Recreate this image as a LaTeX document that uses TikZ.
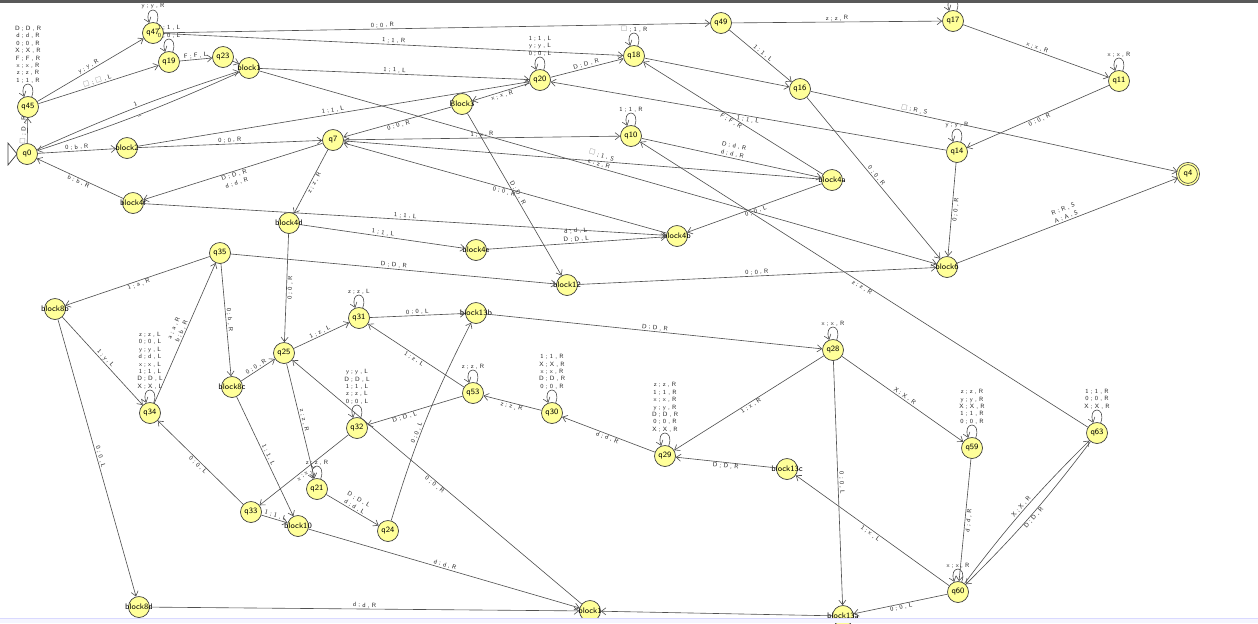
\documentclass[tikz,border=0pt]{standalone}
\usepackage{amssymb}
\usepackage{tikz}
\usetikzlibrary{arrows.meta}
\definecolor{jyellow}{RGB}{255,255,153}
\definecolor{jline}{RGB}{80,80,80}
\newcommand{\nm}[1]{\makebox[0pt]{#1}}
\newcommand{\blank}{\textcolor{black!45}{$\square$}}
\tikzset{
  state/.style={circle, draw=black!75, fill=jyellow, line width=0.4pt, minimum size=0.42cm, inner sep=0pt, font=\fontsize{4.6}{5}\sffamily},
  accept/.style={state, double=jyellow, double distance=0.8pt},
  trans/.style={draw=jline, line width=0.35pt, -{Straight Barb[length=2.6pt,width=4pt]}},
  lbl/.style={font=\fontsize{3.5}{4.8}\sffamily, text=black!85, inner sep=0.5pt, align=center, sloped, above},
  lbr/.style={lbl, below},
  looplbl/.style={font=\fontsize{3.5}{4.2}\sffamily, text=black!85, inner sep=0.5pt, align=center, above},
  selfloop/.style={out=70, in=110, looseness=1, min distance=0.36cm},
}
\begin{document}
\begin{tikzpicture}[x=0.02cm, y=-0.02cm]
\useasboundingbox (0,0) rectangle (1258,623);
\fill[white] (0,0) rectangle (1258,623);
% states, upper half
\node[state] (q0) at (27,154) {\nm{q0}};
\node[state] (q45) at (28,107) {\nm{q45}};
\node[state] (q47) at (153,33) {\nm{q47}};
\node[state] (q19) at (169,62) {\nm{q19}};
\node[state] (q23) at (223,57) {\nm{q23}};
\node[state] (block1) at (249,68) {\nm{block1}};
\node[state] (block2) at (127,148) {\nm{block2}};
\node[state] (block4f) at (133,203) {\nm{block4f}};
\node[state] (q7) at (333,140) {\nm{q7}};
\node[state] (block3) at (462,104) {\nm{Block3}};
\node[state] (q20) at (540,80) {\nm{q20}};
\node[state] (q18) at (634,56) {\nm{q18}};
\node[state] (q49) at (721,23) {\nm{q49}};
\node[state] (q17) at (953,21) {\nm{q17}};
\node[state] (q11) at (1119,81) {\nm{q11}};
\node[state] (q16) at (800,89) {\nm{q16}};
\node[state] (q10) at (631,136) {\nm{q10}};
\node[state] (q14) at (957,152) {\nm{q14}};
\node[accept] (q4) at (1188,174) {\nm{q4}};
\node[state] (block4a) at (832,180) {\nm{block4a}};
\node[state] (block4d) at (289,223) {\nm{block4d}};
\node[state] (block4e) at (476,250) {\nm{block4e}};
\node[state] (block4b) at (677,236) {\nm{block4b}};
\node[state] (block12) at (567,285) {\nm{block12}};
\node[state] (block6) at (947,267) {\nm{block6}};
% states, lower half
\node[state] (q35) at (220,253) {\nm{q35}};
\node[state] (block8b) at (55,309) {\nm{block8b}};
\node[state] (q34) at (150,413) {\nm{q34}};
\node[state] (block8c) at (232,387) {\nm{block8c}};
\node[state] (q25) at (284,353) {\nm{q25}};
\node[state] (q31) at (359,318) {\nm{q31}};
\node[state] (block13b) at (476,313) {\nm{block13b}};
\node[state] (q28) at (833,350) {\nm{q28}};
\node[state] (q53) at (473,393) {\nm{q53}};
\node[state] (q30) at (552,413) {\nm{q30}};
\node[state] (q32) at (357,428) {\nm{q32}};
\node[state] (q29) at (665,456) {\nm{q29}};
\node[state] (block13c) at (787,469) {\nm{block13c}};
\node[state] (q59) at (972,448) {\nm{q59}};
\node[state] (q63) at (1097,433) {\nm{q63}};
\node[state] (q21) at (317,489) {\nm{q21}};
\node[state] (q33) at (251,512) {\nm{q33}};
\node[state] (block10) at (298,526) {\nm{block10}};
\node[state] (q24) at (388,531) {\nm{q24}};
\node[state] (block8d) at (139,607) {\nm{block8d}};
\node[state] (block1b) at (590,611) {\nm{block1}};
\node[state] (block13a) at (843,616) {\nm{block13a}};
\node[state] (q60) at (958,592) {\nm{q60}};
% initial marker
\draw[black!75, fill=white] (8,143) -- (17,154) -- (8,165) -- cycle;
% transitions, upper half
\draw[trans] (q0) -- node[lbl] {\blank{} ; D , R} (q45);
\draw[trans] (q45) to[selfloop] node[looplbl] {D ; D , R\\d ; d , R\\0 ; 0 , R\\X ; X , R\\F ; F , R\\x ; x , R\\z ; z , R\\1 ; 1 , R} (q45);
\draw[trans] (q45) -- node[lbl] {y ; y , R} (q47);
\draw[trans] (q45) -- node[lbl] {\blank{} ; \blank{} , L} (q19);
\draw[trans] (q47) to[selfloop] node[looplbl] {y ; y , R} (q47);
\draw[trans] (q19) to[selfloop] node[looplbl] {1 ; 1 , L\\0 ; 0 , L} (q19);
\draw[trans] (q19) -- node[lbl] {F ; F , L} (q23);
\draw[trans] (q23) -- (block1);
\draw[trans] (q0) to[bend left=3] node[lbl] {1} (block1);
\draw[trans] (block1) to[bend left=3] node[lbr] {--} (q0);
\draw[trans] (q0) -- node[lbl] {0 ; b , R} (block2);
\draw[trans] (block4f) -- node[lbr] {b ; b , R} (q0);
\draw[trans] (block2) -- node[lbl] {0 ; 0 , R} (q7);
\draw[trans] (block2) -- node[lbl] {1 ; 1 , L} (q20);
\draw[trans] (block1) -- node[lbl] {1 ; 1 , L} (q20);
\draw[trans] (block1) -- node[lbl] {\blank{} ; 1 , S\\z ; z , R} (block6);
\draw[trans] (q7) -- node[lbr] {D ; D , R\\d ; d , R} (block4f);
\draw[trans] (block4f) -- node[lbl] {1 ; 1 , L} (block4b);
\draw[trans] (q47) -- node[lbl, pos=0.4] {0 ; 0 , R} (q49);
\draw[trans] (q47) -- node[lbl] {1 ; 1 , R} (q18);
\draw[trans] (q18) to[selfloop] node[looplbl] {\blank{} ; 1 , R} (q18);
\draw[trans] (q20) to[selfloop] node[looplbl] {1 ; 1 , L\\y ; y , L\\0 ; 0 , L} (q20);
\draw[trans] (q20) -- node[lbl] {D ; D , R} (q18);
\draw[trans] (q20) -- node[lbr] {x ; x , R} (block3);
\draw[trans] (block3) -- node[lbr] {0 ; 0 , R} (q7);
\draw[trans] (block3) -- node[lbl] {D ; D , R} (block12);
\draw[trans] (q7) -- node[lbl] {1 ; x , R} (q10);
\draw[trans] (q10) to[selfloop] node[looplbl] {1 ; 1 , R} (q10);
\draw[trans] (q10) -- node[lbl] {D ; d , R\\d ; d , R} (block4a);
\draw[trans] (block4a) -- (q7);
\draw[trans] (block4b) -- node[lbr] {0 ; 0 , R} (q7);
\draw[trans] (q49) -- node[lbl] {z ; z , R} (q17);
\draw[trans] (q49) -- node[lbl] {1 ; 1 , L} (q16);
\draw[trans] (q18) -- (q16);
\draw[trans] (block4a) -- node[lbr] {F ; F , R} (q18);
\draw[trans] (q14) -- node[lbr] {1 ; 1 , L} (q20);
\draw[trans] (q17) to[selfloop] (q17);
\draw[trans] (q17) -- node[lbl] {x ; x , R} (q11);
\draw[trans] (q11) to[selfloop] node[looplbl] {x ; x , R} (q11);
\draw[trans] (q11) -- node[lbr] {0 ; 0 , R} (q14);
\draw[trans] (q14) to[selfloop] node[looplbl] {y ; y , R} (q14);
\draw[trans] (q16) -- node[lbl, pos=0.28] {\blank{} ; R , S} (q4);
\draw[trans] (q16) -- node[lbl] {0 ; 0 , R} (block6);
\draw[trans] (q14) -- node[lbr] {0 ; 0 , R} (block6);
\draw[trans] (block6) -- node[lbl] {R ; R , S\\A ; A , S} (q4);
\draw[trans] (q7) -- node[lbr] {z ; z , R} (block4d);
\draw[trans] (block4d) -- node[lbl] {1 ; 1 , L} (block4e);
\draw[trans] (block4e) -- node[lbl] {d ; d , L\\D ; D , L} (block4b);
\draw[trans] (block4a) -- node[lbr] {0 ; 0 , L} (block4b);
\draw[trans] (block4d) -- node[lbr] {0 ; 0 , R} (q25);
\draw[trans] (q35) -- node[lbl] {D ; D , R} (block12);
\draw[trans] (block12) -- node[lbl] {0 ; 0 , R} (block6);
\draw[trans] (q63) -- node[lbr] {z ; z , R} (q10);
% transitions, lower half
\draw[trans] (q35) -- node[lbr] {1 ; a , R} (block8b);
\draw[trans] (block8b) -- node[lbl] {1 ; y , L} (q34);
\draw[trans] (q34) -- node[lbl] {a ; a , R\\b ; b , R} (q35);
\draw[trans] (q34) to[selfloop] node[looplbl] {z ; z , L\\0 ; 0 , L\\y ; y , L\\d ; d , L\\x ; x , L\\1 ; 1 , L\\D ; D , L\\X ; X , L} (q34);
\draw[trans] (q35) -- node[lbl] {0 ; b , R} (block8c);
\draw[trans] (block8c) -- node[lbl] {0 ; 0 , R} (q25);
\draw[trans] (block8c) -- node[lbl] {1 ; 1 , L} (block10);
\draw[trans] (block8b) -- node[lbl] {0 ; 0 , L} (block8d);
\draw[trans] (block8d) -- node[lbl] {d ; d , R} (block1b);
\draw[trans] (q25) -- node[lbl] {1 ; z , L} (q31);
\draw[trans] (q31) to[selfloop] node[looplbl] {z ; z , L} (q31);
\draw[trans] (q31) -- node[lbl] {0 ; 0 , L} (block13b);
\draw[trans] (block13b) -- node[lbl] {D ; D , R} (q28);
\draw[trans] (q53) -- node[lbr] {1 ; z , L} (q31);
\draw[trans] (q53) to[selfloop] node[looplbl] {z ; z , R} (q53);
\draw[trans] (q53) -- node[lbr, pos=0.62] {D ; D , L} (q32);
\draw[trans] (q24) to[bend left=5] node[lbl, pos=0.42] {0 ; 0 , L} (block13b);
\draw[trans] (q30) -- node[lbr] {z ; z , R} (q53);
\draw[trans] (q30) to[selfloop] node[looplbl] {1 ; 1 , R\\X ; X , R\\x ; x , R\\D ; D , R\\0 ; 0 , R} (q30);
\draw[trans] (q29) -- node[lbr] {d ; d , R} (q30);
\draw[trans] (q29) to[selfloop] node[looplbl] {z ; z , R\\1 ; 1 , R\\x ; x , R\\y ; y , R\\D ; D , R\\0 ; 0 , R\\X ; X , R} (q29);
\draw[trans] (q28) to[selfloop] node[looplbl] {x ; x , R} (q28);
\draw[trans] (q28) -- node[lbr] {1 ; x , R} (q29);
\draw[trans] (q28) -- node[lbl] {X ; X , R} (q59);
\draw[trans] (q28) -- node[lbl] {0 ; 0 , L} (block13a);
\draw[trans] (block13c) -- node[lbr] {D ; D , R} (q29);
\draw[trans] (q60) -- node[lbr] {1 ; x , L} (block13c);
\draw[trans] (q59) to[selfloop] node[looplbl] {z ; z , R\\y ; y , R\\X ; X , R\\1 ; 1 , R\\0 ; 0 , R} (q59);
\draw[trans] (q59) -- node[lbr] {d ; d , R} (q60);
\draw[trans] (q60) to[selfloop] node[looplbl] {x ; x , R} (q60);
\draw[trans] (q60) to[bend left=4] node[lbl] {X ; X , R} (q63);
\draw[trans] (q63) to[bend left=4] node[lbr] {D ; D , R} (q60);
\draw[trans] (q63) to[selfloop] node[looplbl] {1 ; 1 , R\\0 ; 0 , R\\X ; X , R} (q63);
\draw[trans] (q60) -- node[lbr] {0 ; 0 , L} (block13a);
\draw[trans] (block13a) -- (block1b);
\draw[trans] (q25) -- node[lbl] {z ; z , R} (q21);
\draw[trans] (q32) to[selfloop] node[looplbl] {y ; y , L\\D ; D , L\\1 ; 1 , L\\z ; z , L\\0 ; 0 , L} (q32);
\draw[trans] (q32) -- node[lbr] {x ; x , L} (q33);
\draw[trans] (q21) to[selfloop] node[looplbl] {z ; z , R} (q21);
\draw[trans] (q21) -- node[lbl] {D ; D , L\\d ; d , L} (q24);
\draw[trans] (q33) -- node[lbr] {0 ; 0 , L} (q34);
\draw[trans] (q33) -- node[lbl] {1 ; 1 , L} (block10);
\draw[trans] (block10) -- node[lbl] {d ; d , R} (block1b);
\draw[trans] (block1b) -- node[lbr] {0 ; 0 , R} (q25);
% window edges
\fill[black!65] (0,0) rectangle (1258,3);
\fill[blue!4] (0,618) rectangle (1258,623);
\draw[blue!15, line width=0.3pt] (0,618) -- (1258,618);
\end{tikzpicture}
\end{document}
